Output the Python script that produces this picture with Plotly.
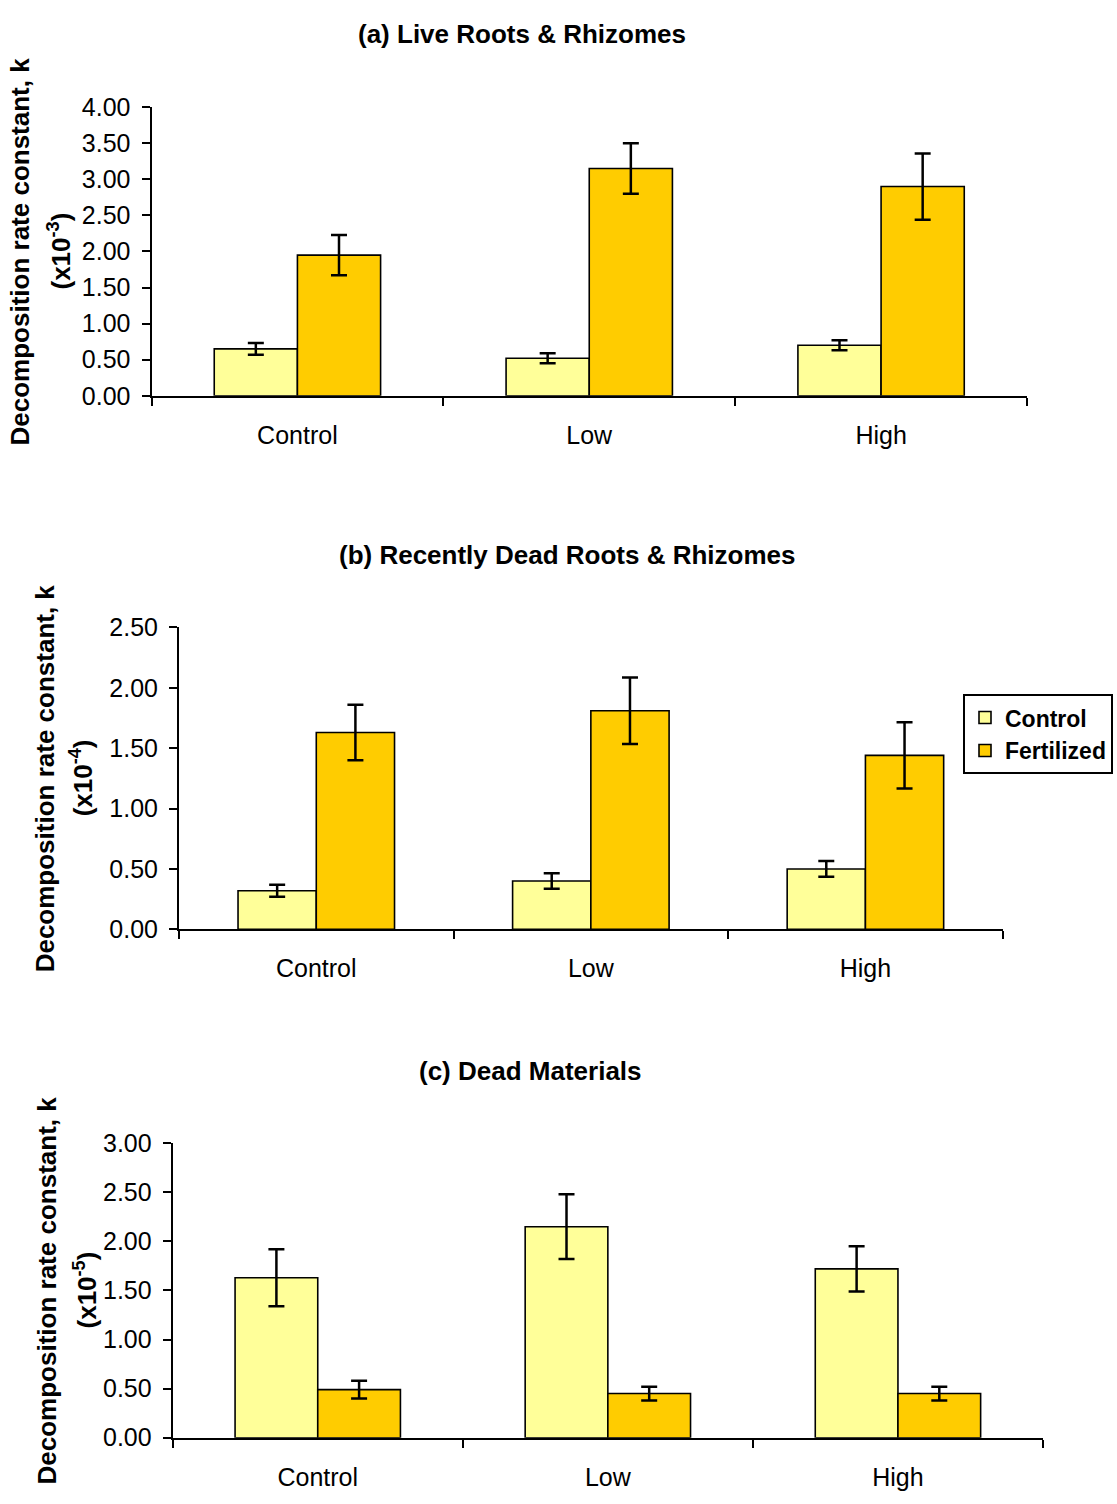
import plotly.graph_objects as go

W, H = 1117, 1504

categories = ["Control", "Low", "High"]
series_names = ["Control", "Fertilized"]

a_control = [0.65, 0.52, 0.70]
a_control_err = [0.08, 0.07, 0.07]
a_fert = [1.95, 3.15, 2.90]
a_fert_err = [0.28, 0.35, 0.46]

b_control = [0.32, 0.40, 0.50]
b_control_err = [0.05, 0.065, 0.065]
b_fert = [1.63, 1.81, 1.44]
b_fert_err = [0.23, 0.275, 0.275]

c_control = [1.63, 2.15, 1.72]
c_control_err = [0.29, 0.33, 0.23]
c_fert = [0.49, 0.45, 0.45]
c_fert_err = [0.09, 0.07, 0.07]

titles = ["(a) Live Roots & Rhizomes", "(b) Recently Dead Roots & Rhizomes", "(c) Dead Materials"]
exponents = ["-3", "-4", "-5"]
y_max = [4.0, 2.5, 3.0]

COL_C = "#FFFF99"
COL_F = "#FFCC00"
FONT = "Liberation Sans, Arial, sans-serif"

# panel geometry in pixels: (x_left, x_right, y_top, y_bottom)
geo = [
    (151.5, 1027.0, 95.0, 389.0),
    (179.0, 1002.7, 625.0, 932.7),
    (172.7, 1043.0, 1150.7, 1450.7),
]
title_pos = [(522, 20), (567, 551), (530, 1077)]
ylab_x = [(20, 60), (45, 81), (47, 86)]

data = [
    (a_control, a_control_err, a_fert, a_fert_err),
    (b_control, b_control_err, b_fert, b_fert_err),
    (c_control, c_control_err, c_fert, c_fert_err),
]

fig = go.Figure()
annotations = []
for i, (cv, ce, fv, fe) in enumerate(data):
    xa = "x" if i == 0 else f"x{i+1}"
    ya = "y" if i == 0 else f"y{i+1}"
    for name, vals, errs, col in [(series_names[0], cv, ce, COL_C), (series_names[1], fv, fe, COL_F)]:
        fig.add_trace(go.Bar(
            x=categories, y=vals, name=f"<b>{name}</b>", xaxis=xa, yaxis=ya,
            marker=dict(color=col, line=dict(color="black", width=1.6)),
            error_y=dict(type="data", array=errs, visible=True, color="black", thickness=2.5, width=8),
            legendgroup=name, showlegend=(i == 1),
        ))
    xl, xr, yt, yb = geo[i]
    axis_x = dict(
        domain=[xl / W, xr / W], anchor=ya, type="category",
        range=[-0.5, 2.5], autorange=False,
        showline=True, linecolor="black", linewidth=2,
        ticks="outside", tickson="boundaries", ticklen=8, tickwidth=2, tickcolor="black",
        tickfont=dict(family=FONT, size=25, color="black"),
        ticklabelstandoff=16, showgrid=False, zeroline=False,
    )
    axis_y = dict(
        domain=[1 - yb / H, 1 - yt / H], anchor=xa,
        range=[0, y_max[i]], autorange=False, dtick=0.5, tick0=0, tickformat=".2f",
        showline=True, linecolor="black", linewidth=2,
        ticks="outside", ticklen=8, tickwidth=2, tickcolor="black",
        tickfont=dict(family=FONT, size=25, color="black"),
        ticklabelstandoff=6, showgrid=False, zeroline=False,
    )
    key = "" if i == 0 else str(i + 1)
    fig.layout["xaxis" + key] = axis_x
    fig.layout["yaxis" + key] = axis_y

    tx, ty = title_pos[i]
    annotations.append(dict(
        text=f"<b>{titles[i]}</b>", x=tx / W, y=1 - ty / H, xref="paper", yref="paper",
        xanchor="center", yanchor="middle", showarrow=False,
        font=dict(family=FONT, size=26, color="black"),
    ))
    ymid = 1 - (yt + yb) / 2 / H
    l1, l2 = ylab_x[i]
    annotations.append(dict(
        text="<b>Decomposition rate constant, k</b>", x=l1 / W, y=ymid, xref="paper", yref="paper",
        xanchor="center", yanchor="middle", showarrow=False, textangle=-90,
        font=dict(family=FONT, size=26, color="black"),
    ))
    annotations.append(dict(
        text=f"<b>(x10<sup>{exponents[i]}</sup>)</b>", x=l2 / W, y=ymid, xref="paper", yref="paper",
        xanchor="center", yanchor="middle", showarrow=False, textangle=-90,
        font=dict(family=FONT, size=26, color="black"),
    ))

fig.update_layout(
    width=W, height=H, margin=dict(l=0, r=0, t=0, b=0),
    paper_bgcolor="white", plot_bgcolor="white",
    barmode="group", bargap=0.43, bargroupgap=0,
    annotations=annotations,
    legend=dict(
        x=1113 / W, y=1 - 693 / H, xanchor="right", yanchor="top",
        bordercolor="black", borderwidth=2, bgcolor="white",
        font=dict(family=FONT, size=23, color="black"),
        itemwidth=30, tracegroupgap=0,
    ),
    font=dict(family=FONT, color="black"),
)

fig.write_html("out.html", config={"displayModeBar": False},
               post_script="document.body.style.margin='0px';")
